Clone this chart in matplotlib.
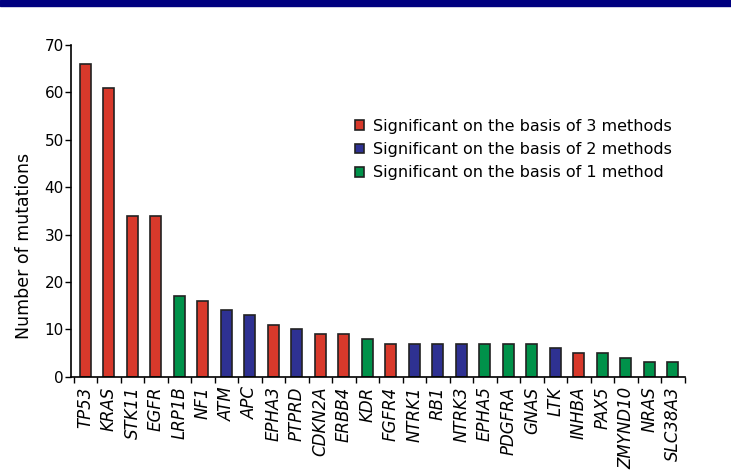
import matplotlib
matplotlib.use("Agg")
import matplotlib.pyplot as plt
from matplotlib.patches import Rectangle, Patch

# genes ordered by number of mutations
genes = ["TP53", "KRAS", "STK11", "EGFR", "LRP1B", "NF1", "ATM", "APC", "EPHA3",
         "PTPRD", "CDKN2A", "ERBB4", "KDR", "FGFR4", "NTRK1", "RB1", "NTRK3",
         "EPHA5", "PDGFRA", "GNAS", "LTK", "INHBA", "PAX5", "ZMYND10", "NRAS",
         "SLC38A3"]
mutations = [66, 61, 34, 34, 17, 16, 14, 13, 11, 10, 9, 9, 8, 7, 7, 7, 7,
             7, 7, 7, 6, 5, 5, 4, 3, 3]
# how many methods called the gene significant
methods = [3, 3, 3, 3, 1, 3, 2, 2, 3, 2, 3, 3, 1, 3, 2, 2, 2,
           1, 1, 1, 2, 3, 1, 1, 1, 1]

method_colors = {3: "#d8392b", 2: "#2e3192", 1: "#00924a"}
method_labels = {3: "Significant on the basis of 3 methods",
                 2: "Significant on the basis of 2 methods",
                 1: "Significant on the basis of 1 method"}

plt.rcParams["font.family"] = "DejaVu Sans"

fig = plt.figure(figsize=(7.31, 4.75), dpi=100)
fig.patches.append(Rectangle((0, 1 - 6 / 475), 1, 6 / 475, transform=fig.transFigure,
                             color="#000080", zorder=0))

ax = fig.add_axes([0.097, 0.207, 0.84, 0.698])
x = list(range(len(genes)))
ax.bar(x, mutations, width=0.47, color=[method_colors[m] for m in methods],
       edgecolor="#222222", linewidth=1.2)

ax.set_xlim(-0.62, len(genes) - 0.49)
ax.set_ylim(0, 70)
ax.set_yticks(range(0, 71, 10))
ax.tick_params(axis="y", labelsize=11, length=4, width=1, pad=1)

ax.set_xticks(x)
ax.set_xticklabels(genes, rotation=90, fontstyle="italic", fontsize=12)
ax.tick_params(axis="x", length=0, pad=7)
ax.set_xticks([i + 0.5 for i in range(-1, len(genes))], minor=True)
ax.tick_params(axis="x", which="minor", length=4, width=1)

for side in ["top", "right"]:
    ax.spines[side].set_visible(False)
for side in ["left", "bottom"]:
    ax.spines[side].set_linewidth(1.2)

ax.set_ylabel("Number of mutations", fontsize=12.5)
ax.yaxis.set_label_coords(-0.062, 0.394)

handles = [Patch(facecolor=method_colors[m], edgecolor="#222222", linewidth=1.2)
           for m in (3, 2, 1)]
ax.legend(handles, [method_labels[m] for m in (3, 2, 1)], frameon=False,
          loc="upper left", bbox_to_anchor=(0.4625, 0.778), fontsize=11.5,
          handlelength=0.55, handleheight=0.55, handletextpad=0.6,
          labelspacing=0.52, borderaxespad=0, borderpad=0)

fig.savefig("out.png", dpi=100)
